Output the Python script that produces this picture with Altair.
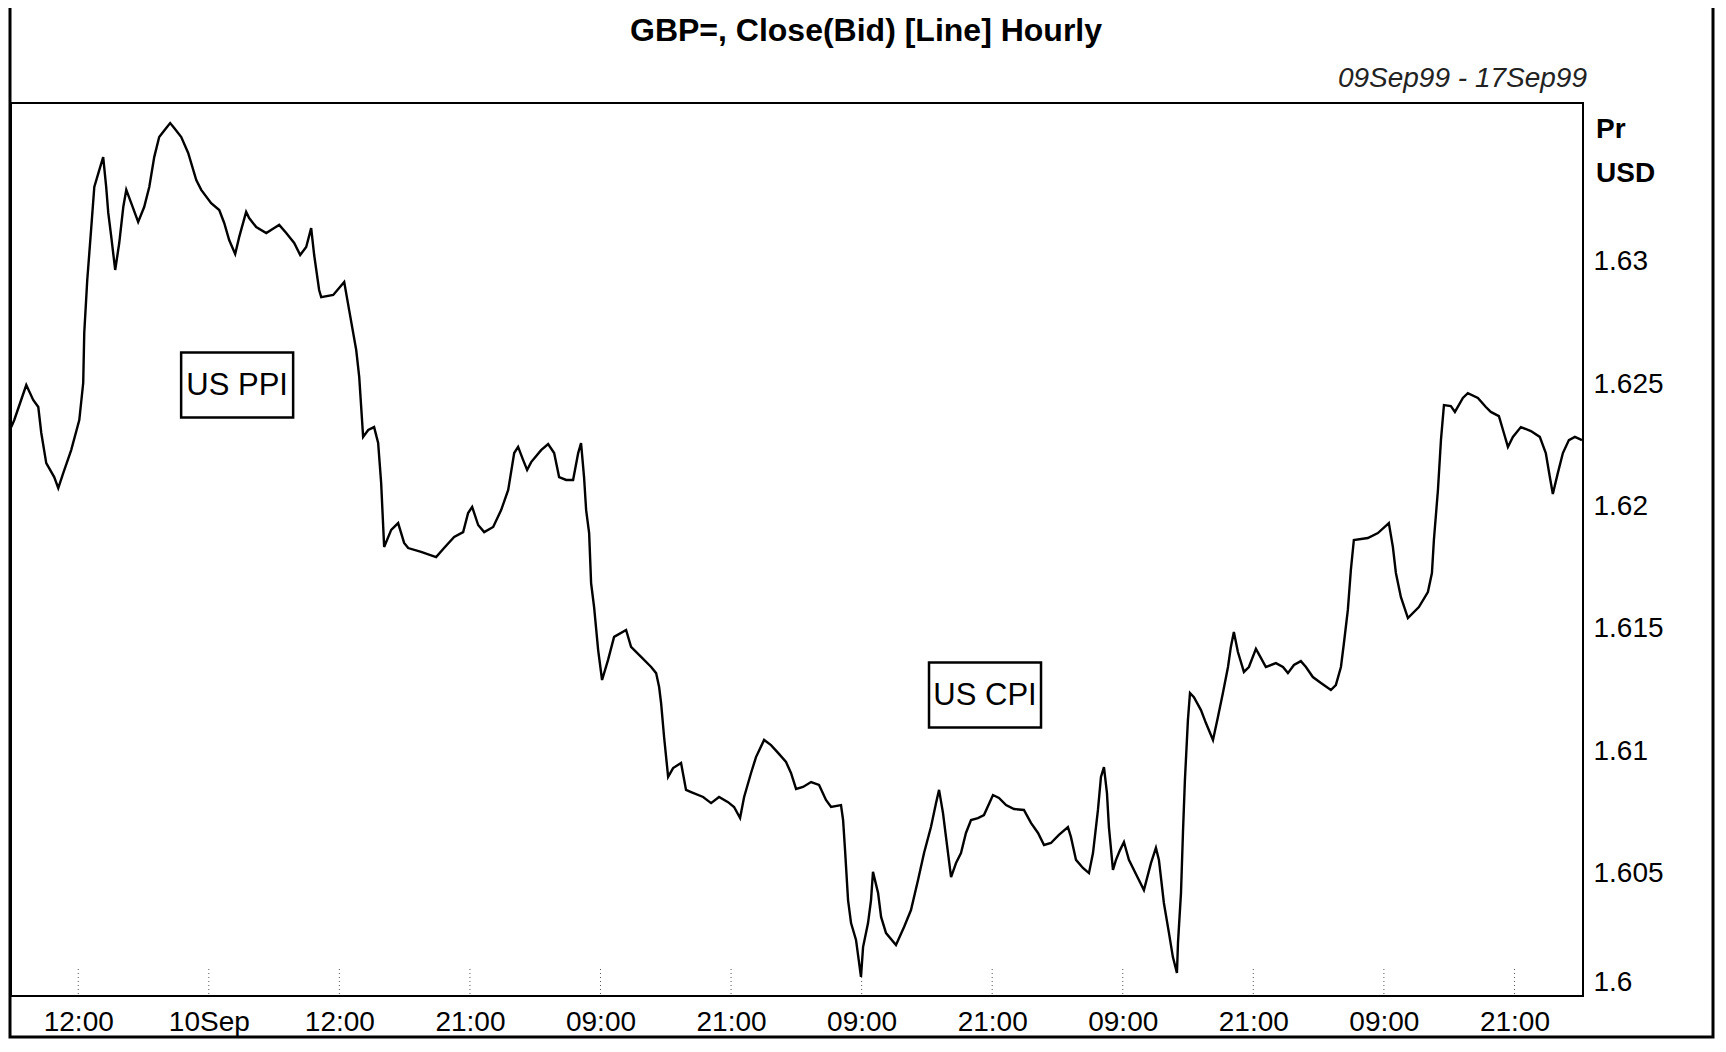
import json
import altair as alt
import pandas as pd

# ---- data ----
title_text = "GBP=, Close(Bid) [Line] Hourly"
range_text = "09Sep99 - 17Sep99"
unit_lines = ["Pr", "USD"]

tick_labels = ["12:00", "10Sep", "12:00", "21:00", "09:00", "21:00",
               "09:00", "21:00", "09:00", "21:00", "09:00", "21:00"]
price_ticks = [1.6, 1.605, 1.61, 1.615, 1.62, 1.625, 1.63]

# position along the hourly axis, in units of label intervals
t = [-0.513, -0.490, -0.398, -0.345, -0.306, -0.283, -0.245, -0.184, -0.153, -0.115,
     -0.054, 0.008, 0.038, 0.046, 0.069, 0.100, 0.123, 0.161, 0.191, 0.214,
     0.230, 0.253, 0.283, 0.314, 0.345, 0.368, 0.406, 0.459, 0.505, 0.544,
     0.582, 0.620, 0.674, 0.704, 0.735, 0.789, 0.842, 0.904, 0.942, 1.018,
     1.080, 1.118, 1.156, 1.202, 1.233, 1.286, 1.309, 1.363, 1.440, 1.501,
     1.539, 1.593, 1.654, 1.700, 1.746, 1.784, 1.807, 1.845, 1.861, 1.953,
     2.037, 2.075, 2.129, 2.152, 2.182, 2.221, 2.266, 2.297, 2.320, 2.343,
     2.397, 2.450, 2.496, 2.527, 2.626, 2.741, 2.802, 2.879, 2.948, 2.986,
     3.017, 3.063, 3.109, 3.178, 3.239, 3.293, 3.339, 3.369, 3.407, 3.438,
     3.469, 3.545, 3.599, 3.645, 3.683, 3.737, 3.790, 3.829, 3.851, 3.874,
     3.890, 3.913, 3.928, 3.951, 3.982, 4.012, 4.058, 4.104, 4.196, 4.234,
     4.311, 4.388, 4.426, 4.449, 4.464, 4.487, 4.518, 4.556, 4.617, 4.655,
     4.694, 4.786, 4.847, 4.908, 4.977, 5.023, 5.069, 5.100, 5.153, 5.191,
     5.253, 5.306, 5.360, 5.421, 5.459, 5.498, 5.551, 5.613, 5.674, 5.727,
     5.766, 5.842, 5.858, 5.873, 5.896, 5.919, 5.957, 5.995, 6.011, 6.049,
     6.072, 6.087, 6.126, 6.149, 6.187, 6.263, 6.325, 6.378, 6.432, 6.478,
     6.531, 6.570, 6.593, 6.623, 6.646, 6.685, 6.723, 6.761, 6.799, 6.838,
     6.891, 6.937, 7.006, 7.052, 7.106, 7.167, 7.243, 7.297, 7.351, 7.397,
     7.450, 7.511, 7.580, 7.603, 7.642, 7.695, 7.741, 7.772, 7.810, 7.833,
     7.856, 7.879, 7.894, 7.925, 7.948, 7.979, 8.009, 8.047, 8.116, 8.162,
     8.216, 8.254, 8.277, 8.315, 8.354, 8.384, 8.415, 8.423, 8.446, 8.461,
     8.476, 8.499, 8.515, 8.545, 8.599, 8.637, 8.691, 8.729, 8.767, 8.806,
     8.828, 8.851, 8.882, 8.928, 8.966, 9.020, 9.058, 9.096, 9.173, 9.227,
     9.265, 9.311, 9.364, 9.403, 9.456, 9.518, 9.594, 9.632, 9.671, 9.694,
     9.724, 9.747, 9.770, 9.877, 9.954, 10.038, 10.069, 10.092, 10.130, 10.184,
     10.268, 10.337, 10.368, 10.383, 10.414, 10.437, 10.460, 10.513, 10.544, 10.605,
     10.643, 10.720, 10.781, 10.819, 10.881, 10.919, 10.950, 10.988, 11.049, 11.126,
     11.194, 11.240, 11.271, 11.294, 11.332, 11.371, 11.417, 11.463, 11.517]

price = [1.62324, 1.62353, 1.62496, 1.62435, 1.62406, 1.62300, 1.62177, 1.62120, 1.62075, 1.62136,
         1.62230, 1.62353, 1.62504, 1.62708, 1.62925, 1.63141, 1.63305, 1.63374, 1.63427, 1.63305,
         1.63199, 1.63101, 1.62966, 1.63076, 1.63223, 1.63293, 1.63239, 1.63162, 1.63223, 1.63305,
         1.63427, 1.63509, 1.63546, 1.63566, 1.63546, 1.63509, 1.63444, 1.63333, 1.63293, 1.63239,
         1.63211, 1.63158, 1.63088, 1.63031, 1.63101, 1.63203, 1.63178, 1.63141, 1.63117, 1.63137,
         1.63150, 1.63117, 1.63076, 1.63027, 1.63060, 1.63137, 1.63027, 1.62884, 1.62855, 1.62864,
         1.62917, 1.62802, 1.62639, 1.62529, 1.62284, 1.62312, 1.62324, 1.62259, 1.62096, 1.61834,
         1.61904, 1.61932, 1.61851, 1.61830, 1.61814, 1.61793, 1.61830, 1.61875, 1.61895, 1.61973,
         1.61998, 1.61924, 1.61895, 1.61916, 1.61985, 1.62067, 1.62218, 1.62243, 1.62190, 1.62149,
         1.62181, 1.62230, 1.62255, 1.62218, 1.62120, 1.62108, 1.62108, 1.62218, 1.62259, 1.62120,
         1.61985, 1.61891, 1.61687, 1.61589, 1.61413, 1.61291, 1.61373, 1.61467, 1.61495, 1.61426,
         1.61385, 1.61344, 1.61319, 1.61262, 1.61197, 1.61058, 1.60895, 1.60931, 1.60952, 1.60842,
         1.60833, 1.60813, 1.60788, 1.60813, 1.60792, 1.60772, 1.60727, 1.60813, 1.60911, 1.60976,
         1.61046, 1.61025, 1.60993, 1.60956, 1.60911, 1.60846, 1.60854, 1.60874, 1.60862, 1.60801,
         1.60772, 1.60780, 1.60719, 1.60596, 1.60392, 1.60298, 1.60229, 1.60078, 1.60200, 1.60298,
         1.60392, 1.60507, 1.60421, 1.60323, 1.60257, 1.60208, 1.60282, 1.60351, 1.60474, 1.60584,
         1.60690, 1.60788, 1.60842, 1.60748, 1.60650, 1.60486, 1.60543, 1.60584, 1.60666, 1.60719,
         1.60727, 1.60739, 1.60821, 1.60809, 1.60780, 1.60764, 1.60760, 1.60707, 1.60666, 1.60617,
         1.60625, 1.60658, 1.60690, 1.60650, 1.60556, 1.60523, 1.60502, 1.60584, 1.60760, 1.60895,
         1.60935, 1.60829, 1.60690, 1.60515, 1.60556, 1.60596, 1.60629, 1.60556, 1.60482, 1.60433,
         1.60543, 1.60605, 1.60556, 1.60380, 1.60257, 1.60159, 1.60094, 1.60217, 1.60421, 1.60666,
         1.60882, 1.61127, 1.61238, 1.61221, 1.61168, 1.61115, 1.61046, 1.61140, 1.61238, 1.61344,
         1.61426, 1.61487, 1.61405, 1.61324, 1.61344, 1.61418, 1.61381, 1.61344, 1.61360, 1.61344,
         1.61319, 1.61352, 1.61368, 1.61344, 1.61303, 1.61279, 1.61250, 1.61270, 1.61344, 1.61442,
         1.61577, 1.61740, 1.61863, 1.61871, 1.61891, 1.61932, 1.61834, 1.61728, 1.61630, 1.61544,
         1.61589, 1.61650, 1.61728, 1.61863, 1.62067, 1.62271, 1.62414, 1.62410, 1.62386, 1.62443,
         1.62463, 1.62443, 1.62406, 1.62386, 1.62369, 1.62300, 1.62243, 1.62284, 1.62324, 1.62308,
         1.62284, 1.62218, 1.62120, 1.62051, 1.62136, 1.62218, 1.62271, 1.62284, 1.62271]

ann_text = ["US PPI", "US CPI"]
ann_t = [1.217, 6.945]
ann_price = [1.62496, 1.61230]

# ---- build ----
n = min(len(t), len(price))
df = pd.DataFrame({"t": t[:n], "price": price[:n]})
ann = pd.DataFrame({"label": ann_text, "t": ann_t, "price": ann_price})
ticks_df = pd.DataFrame({"t": list(range(len(tick_labels)))})

W, H = 1572, 893
FONT = "Liberation Sans"

xscale = alt.Scale(domain=[-0.515, 11.525], nice=False, zero=False)
yscale = alt.Scale(domain=[1.6, 1.63648], nice=False, zero=False)

label_expr = json.dumps(tick_labels) + "[datum.value]"

xaxis = alt.Axis(values=list(range(len(tick_labels))), labelExpr=label_expr,
                 title=None, grid=False, domain=False, ticks=False, tickSize=0,
                 labelPadding=12, labelFontSize=28, labelOverlap=False,
                 labelFlush=False, labelColor="black", labelFont=FONT)
yaxis = alt.Axis(orient="right", values=price_ticks, format="~g", title=None,
                 grid=False, domain=False, ticks=False, tickSize=0,
                 labelPadding=10, labelAlign="left", labelFlush=True,
                 labelFontSize=28, labelColor="black", labelFont=FONT)

line = alt.Chart(df).mark_line(color="black", strokeWidth=2.4, clip=True).encode(
    x=alt.X("t:Q", scale=xscale, axis=xaxis),
    y=alt.Y("price:Q", scale=yscale, axis=yaxis),
)

grid_bits = alt.Chart(ticks_df).mark_rule(color="#555", strokeWidth=1,
                                          strokeDash=[1, 3]).encode(
    x=alt.X("t:Q", scale=xscale),
    y=alt.value(H - 27), y2=alt.value(H),
)

box_path = "M -1 -0.58 L 1 -0.58 L 1 0.58 L -1 0.58 Z"
boxes = alt.Chart(ann).mark_point(shape=box_path, size=112 ** 2, filled=False,
                                  stroke="black", strokeWidth=2.5, opacity=1).encode(
    x=alt.X("t:Q", scale=xscale), y=alt.Y("price:Q", scale=yscale))
box_text = alt.Chart(ann).mark_text(font=FONT, fontSize=31, color="black",
                                    align="center", baseline="middle", dy=1).encode(
    x=alt.X("t:Q", scale=xscale), y=alt.Y("price:Q", scale=yscale), text="label:N")

one = pd.DataFrame({"a": [0]})
title_mark = alt.Chart(pd.DataFrame({"txt": [title_text]})).mark_text(
    font=FONT, fontSize=32, fontWeight="bold", color="black",
    align="center", baseline="middle").encode(
    x=alt.value(855), y=alt.value(-72), text="txt:N")
range_mark = alt.Chart(pd.DataFrame({"txt": [range_text]})).mark_text(
    font=FONT, fontSize=28, fontStyle="italic", color="#222",
    align="right", baseline="middle").encode(
    x=alt.value(1576), y=alt.value(-24), text="txt:N")
unit_pr = alt.Chart(pd.DataFrame({"txt": [unit_lines[0]]})).mark_text(
    font=FONT, fontSize=28, fontWeight="bold", color="black",
    align="left", baseline="middle").encode(
    x=alt.value(1585), y=alt.value(27), text="txt:N")
unit_usd = alt.Chart(pd.DataFrame({"txt": [unit_lines[1]]})).mark_text(
    font=FONT, fontSize=28, fontWeight="bold", color="black",
    align="left", baseline="middle").encode(
    x=alt.value(1585), y=alt.value(71), text="txt:N")

frame = alt.Chart(one).mark_rect(filled=False, stroke="black", strokeWidth=3,
                                 fill=None).encode(
    x=alt.value(-1), x2=alt.value(1702), y=alt.value(-100), y2=alt.value(934))

chart = alt.layer(frame, grid_bits, line, boxes, box_text, title_mark, range_mark,
                  unit_pr, unit_usd).properties(
    width=W, height=H,
    autosize=alt.AutoSizeParams(type="none"),
    padding={"left": 3, "top": 95, "right": 133, "bottom": 44},
    background="white",
).configure_view(stroke="black", strokeWidth=2)

chart.save("out.html", embed_options={"renderer": "svg", "actions": False})
